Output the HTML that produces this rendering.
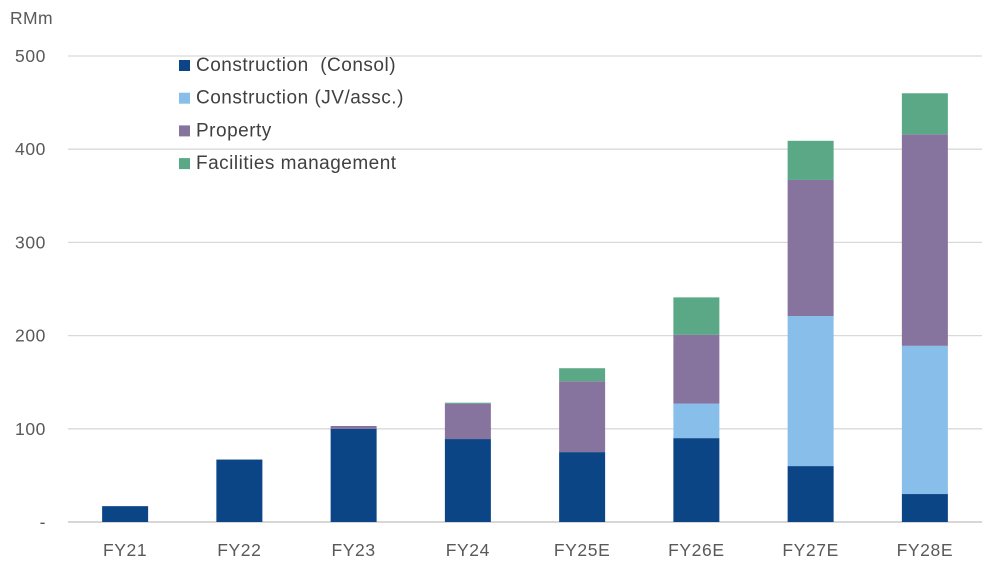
<!DOCTYPE html>
<html><head><meta charset="utf-8"><style>
body{margin:0;background:#fff;}
svg{display:block;font-family:"Liberation Sans",sans-serif;}
</style></head><body>
<svg id="c" width="993" height="567"></svg>
<script>
const categories=["FY21","FY22","FY23","FY24","FY25E","FY26E","FY27E","FY28E"];
const consol=[17,67,100,89,75,90,60,30];
const jv=[0,0,0,0,0,37,161,159];
const property=[0,0,3,38,76,74,146,227];
const fm=[0,0,0,1,14,40,42,44];
const yTicks=[0,100,200,300,400,500];
const yTickLabels=["-","100","200","300","400","500"];
const seriesNames=["Construction  (Consol)","Construction (JV/assc.)","Property","Facilities management"];
const colors=["#0b4586","#87bfea","#86749f","#5aa886"];
const series=[consol,jv,property,fm];
const ns="http://www.w3.org/2000/svg";
const svg=document.getElementById("c");
const x0=68,x1=982,y0=522,yTop=56;
const y=v=>y0-(v/500)*(y0-yTop);
const band=(x1-x0)/categories.length;
const xc=i=>x0+band*(i+0.5);
function mk(t,a){const e=document.createElementNS(ns,t);for(const k in a)e.setAttribute(k,a[k]);svg.appendChild(e);return e;}
yTicks.forEach((v,i)=>{
 if(v>0){const g=mk("line",{x1:x0,x2:x1,y1:y(v),y2:y(v),stroke:"#d9d9d9","stroke-width":1.3});
 
 }
 const t=mk("text",{x:46,y:y(v)+6,"text-anchor":"end","font-size":17.5,"letter-spacing":0.6,fill:"#595959"});t.textContent=yTickLabels[i];
 
 
});
const ax=mk("line",{x1:x0,x2:x1,y1:y0,y2:y0,stroke:"#bfbfbf","stroke-width":1.3});


const u=mk("text",{x:10,y:24,"font-size":17.5,"letter-spacing":0.4,fill:"#595959"});u.textContent="RMm";


categories.forEach((c,i)=>{
 let cum=0;
 series.forEach((s,k)=>{
  const v=s[i];if(v<=0)return;
  const r=mk("rect",{x:xc(i)-23,width:46,y:y(cum+v),height:y(cum)-y(cum+v),fill:colors[k]});
  
  
  cum+=v;
 });
 const t=mk("text",{x:xc(i),y:556,"text-anchor":"middle","font-size":17.5,"letter-spacing":0.6,fill:"#595959"});t.textContent=c;
 
 
});
seriesNames.forEach((n,k)=>{
 const yy=65+k*32.7;
 const r=mk("rect",{x:179,y:yy-5,width:11,height:11,fill:colors[k]});
 
 
 const t=mk("text",{x:196,y:yy+6,"font-size":19,"letter-spacing":0.5,fill:"#404040"});t.textContent=n;
 t.setAttribute('xml:space','preserve');
 t.style.whiteSpace='pre';
 
 
});
</script>
</body></html>
